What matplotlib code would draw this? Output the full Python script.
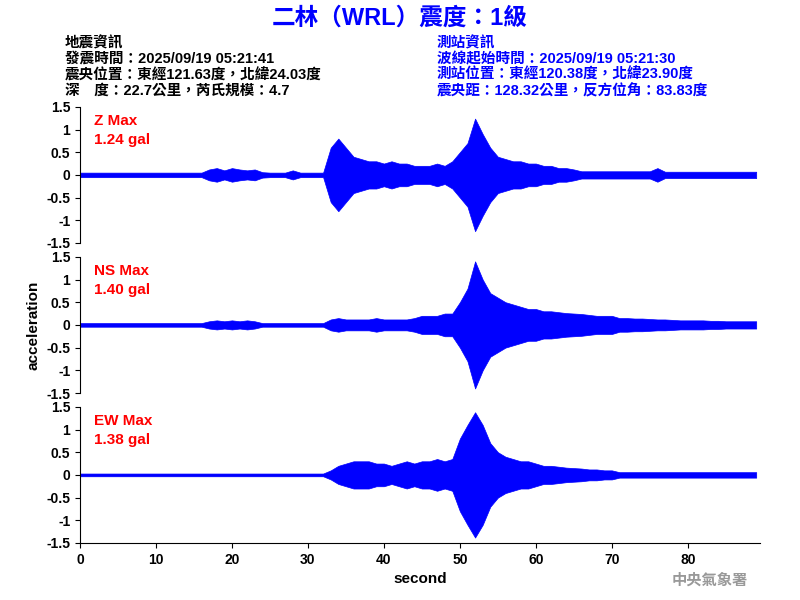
import matplotlib.pyplot as plt
import numpy as np

plt.rcParams['font.family'] = ['Liberation Sans', 'Noto Sans CJK TC']

# Peak amplitude (gal) read per second, 0..89 s
seconds = np.arange(90)
z_amp = [0.05] * 17 + [0.12, 0.15, 0.1, 0.15, 0.12, 0.1, 0.12] + \
    [0.06, 0.05, 0.05, 0.05, 0.1, 0.05, 0.05, 0.05, 0.05] + \
    [0.6, 0.8, 0.6, 0.4, 0.35, 0.3, 0.3, 0.25, 0.3, 0.25, 0.25, 0.2, 0.2, 0.2,
     0.25, 0.2, 0.3, 0.5, 0.7, 1.24, 0.9, 0.6, 0.4, 0.35, 0.3, 0.3, 0.25, 0.25,
     0.2, 0.2, 0.15, 0.15, 0.12] + [0.08] * 10 + [0.15] + [0.07] * 13
ns_amp = [0.04] * 17 + [0.08, 0.1, 0.08, 0.1, 0.08, 0.1, 0.08] + [0.04] * 9 + \
    [0.12, 0.15, 0.12, 0.12, 0.12, 0.12, 0.15, 0.12, 0.12, 0.12, 0.12, 0.15,
     0.2, 0.2, 0.2, 0.25, 0.25, 0.5, 0.8, 1.4, 1.0, 0.7, 0.6, 0.5, 0.45, 0.4,
     0.35, 0.35, 0.3, 0.3, 0.28, 0.26, 0.25, 0.24, 0.22, 0.2, 0.2, 0.2,
     0.15, 0.15, 0.14, 0.14, 0.13, 0.12, 0.12, 0.11, 0.1, 0.1, 0.1, 0.1,
     0.09, 0.09, 0.08, 0.08, 0.08, 0.08, 0.08]
ew_amp = [0.03] * 33 + \
    [0.1, 0.2, 0.25, 0.3, 0.3, 0.3, 0.25, 0.25, 0.2, 0.25, 0.3, 0.25, 0.3,
     0.3, 0.35, 0.3, 0.35, 0.8, 1.1, 1.38, 1.1, 0.7, 0.5, 0.4, 0.35, 0.3, 0.3,
     0.25, 0.2, 0.2, 0.18, 0.16, 0.15, 0.14, 0.12, 0.12, 0.1, 0.1] + [0.06] * 19
channels = ['Z', 'NS', 'EW']
amps = [z_amp, ns_amp, ew_amp]
max_labels = ['1.24 gal', '1.40 gal', '1.38 gal']

blue = '#0000ff'
fig = plt.figure(figsize=(8, 6), dpi=100)
tops = [0.822, 0.572, 0.322]
for i, (ch, a, lab) in enumerate(zip(channels, amps, max_labels)):
    ax = fig.add_axes([0.1, tops[i] - 0.227, 0.85, 0.227])
    a = np.array(a)
    ax.fill_between(seconds, -a, a, color=blue, lw=0.5)
    ax.axhline(0, xmax=0.99, color=blue, lw=1)
    ax.set_xlim(0, 89.5)
    ax.set_ylim(-1.5, 1.5)
    ax.set_yticks([-1.5, -1, -0.5, 0, 0.5, 1, 1.5])
    ax.set_yticklabels(['-1.5', '-1', '-0.5', '0', '0.5', '1', '1.5'])
    for s in ['top', 'right']:
        ax.spines[s].set_visible(False)
    if i < 2:
        ax.spines['bottom'].set_visible(False)
        ax.set_xticks([])
    else:
        ax.set_xticks(range(0, 90, 10))
        ax.set_xlabel('second', fontsize=11, fontweight='bold')
    ax.tick_params(labelsize=10)
    for t in ax.get_xticklabels() + ax.get_yticklabels():
        t.set_fontweight('bold')
    ax.text(0.02, 0.95, f'{ch} Max\n{lab}', transform=ax.transAxes, color='red',
            fontsize=11, va='top', linespacing=1.5, fontweight='bold')
    if i == 1:
        ax.set_ylabel('acceleration', fontsize=11, fontweight='bold')

fig.text(0.5, 0.97, '二林（WRL）震度：1級', color=blue, fontsize=17,
         fontweight='bold', ha='center', va='center')
left = ['地震資訊', '發震時間：2025/09/19 05:21:41', '震央位置：東經121.63度，北緯24.03度',
        '深　度：22.7公里，芮氏規模：4.7']
right = ['測站資訊', '波線起始時間：2025/09/19 05:21:30', '測站位置：東經120.38度，北緯23.90度',
         '震央距：128.32公里，反方位角：83.83度']
for k, (l, r) in enumerate(zip(left, right)):
    y = 1 - (43 + 16 * k) / 600
    fig.text(0.081, y, l, fontsize=10.5, va='center', color='black', fontweight='bold')
    fig.text(0.546, y, r, fontsize=10.5, va='center', color=blue, fontweight='bold')
fig.text(0.935, 0.032, '中央氣象署', color='#999999', fontsize=11,
         fontweight='bold', ha='right', va='center')
fig.savefig('out.png')
